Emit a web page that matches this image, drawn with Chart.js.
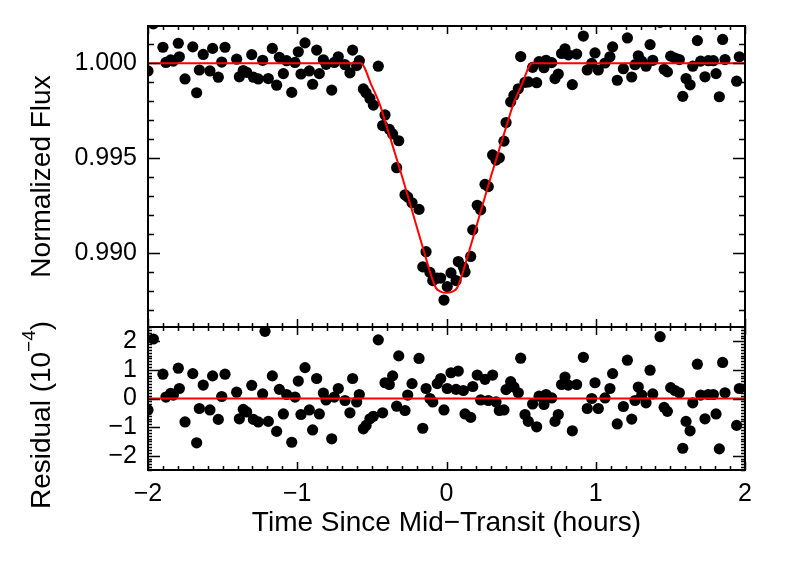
<!DOCTYPE html>
<html>
<head>
<meta charset="utf-8">
<script src="https://cdn.jsdelivr.net/npm/chart.js@4.4.1/dist/chart.umd.min.js"></script>
<style>
html, body { margin: 0; padding: 0; background: #fff; }
#wrap { position: relative; width: 789px; height: 564px; }
#wrap canvas { position: absolute; left: 0; top: 0; }
</style>
</head>
<body>
<div id="wrap">
  <canvas id="fluxChart" width="789" height="564"></canvas>
  <canvas id="residChart" width="789" height="564"></canvas>
</div>
<script>
// ---- DATA ----
const TIME = [
  -2.000, -1.964, -1.900, -1.880, -1.848, -1.830, -1.797, -1.790, -1.752, -1.700,
  -1.674, -1.656, -1.630, -1.585, -1.567, -1.529, -1.506, -1.484, -1.406, -1.388,
  -1.362, -1.339, -1.305, -1.294, -1.261, -1.232, -1.216, -1.194, -1.167, -1.138,
  -1.120, -1.093, -1.071, -1.037, -1.015, -0.993, -0.975, -0.948, -0.919, -0.897,
  -0.870, -0.852, -0.825, -0.807, -0.769, -0.752, -0.725, -0.680, -0.647, -0.629,
  -0.602, -0.584, -0.557, -0.539, -0.513, -0.490, -0.457, -0.428, -0.412, -0.383,
  -0.361, -0.334, -0.320, -0.278, -0.260, -0.231, -0.184, -0.159, -0.137, -0.111,
  -0.092, -0.062, -0.039, -0.017, 0.005, 0.030, 0.064, 0.079, 0.113, 0.124,
  0.162, 0.176, 0.206, 0.229, 0.258, 0.280, 0.309, 0.332, 0.354, 0.385,
  0.399, 0.430, 0.452, 0.481, 0.497, 0.526, 0.548, 0.577, 0.604, 0.620,
  0.653, 0.667, 0.705, 0.727, 0.749, 0.771, 0.794, 0.816, 0.843, 0.872,
  0.917, 0.943, 0.973, 0.995, 1.017, 1.062, 1.095, 1.113, 1.144, 1.185,
  1.212, 1.241, 1.263, 1.285, 1.308, 1.337, 1.364, 1.382, 1.431, 1.458,
  1.480, 1.502, 1.531, 1.560, 1.583, 1.605, 1.632, 1.650, 1.681, 1.703,
  1.732, 1.754, 1.788, 1.806, 1.828, 1.850, 1.866, 1.944, 1.962
];
const FLUX = [
  0.99960, 1.00208, 1.00085, 1.00005, 1.00018, 1.00012, 1.00106, 1.00035, 0.99918, 1.00087,
  0.99845, 0.99965, 1.00047, 0.99960, 1.00079, 0.99927, 1.00007, 1.00085, 1.00022, 0.99929,
  0.99962, 0.99953, 1.00046, 0.99927, 0.99918, 1.00016, 1.00235, 0.99920, 1.00079, 0.99885,
  1.00032, 0.99946, 1.00014, 0.99847, 1.00005, 1.00061, 0.99944, 1.00108, 0.99960, 0.99890,
  1.00070, 0.99946, 1.00019, 0.99995, 0.99859, 1.00005, 1.00035, 0.99993, 0.99950, 1.00070,
  0.99988, 1.00014, 0.99865, 0.99845, 0.99815, 0.99780, 0.99985, 0.99672, 0.99728, 0.99652,
  0.99628, 0.99450, 0.99592, 0.99307, 0.99295, 0.99265, 0.99230, 0.98927, 0.99007, 0.98898,
  0.98855, 0.98868, 0.98868, 0.98752, 0.98823, 0.98895, 0.98855, 0.98955, 0.98925, 0.98900,
  0.98982, 0.99122, 0.99252, 0.99228, 0.99362, 0.99350, 0.99517, 0.99490, 0.99502, 0.99590,
  0.99688, 0.99797, 0.99832, 0.99866, 1.00036, 0.99900, 0.99902, 0.99979, 0.99898, 1.00009,
  0.99977, 1.00016, 1.00004, 0.99920, 0.99944, 1.00052, 1.00077, 1.00045, 0.99888, 1.00049,
  1.00144, 0.99965, 1.00000, 1.00055, 0.99965, 1.00002, 1.00035, 1.00087, 0.99911, 0.99972,
  1.00134, 0.99928, 0.99993, 1.00040, 1.00012, 0.99985, 1.00099, 1.00016, 1.00216, 0.99969,
  0.99955, 1.00038, 1.00028, 1.00020, 0.99826, 0.99920, 0.99887, 0.99985, 1.00120, 1.00012,
  0.99929, 1.00014, 1.00014, 0.99946, 0.99824, 1.00126, 1.00020, 0.99906, 1.00035
];
const RESID = [
  -0.40, 2.08, 0.85, 0.05, 0.18, 0.12, 1.06, 0.35, -0.82, 0.87,
  -1.55, -0.35, 0.47, -0.40, 0.79, -0.73, 0.07, 0.85, 0.22, -0.71,
  -0.38, -0.47, 0.46, -0.73, -0.82, 0.16, 2.35, -0.80, 0.79, -1.15,
  0.32, -0.54, 0.14, -1.53, 0.05, 0.61, -0.56, 1.08, -0.40, -1.10,
  0.70, -0.54, 0.19, -0.05, -1.41, 0.05, 0.35, -0.07, -0.50, 0.70,
  -0.12, 0.14, -1.06, -0.94, -0.71, -0.62, 2.05, -0.50, 0.55, 0.49,
  0.79, -0.27, 1.49, -0.42, 0.12, 0.52, 1.40, -1.04, 0.35, 0.00,
  -0.12, 0.52, 0.70, -0.40, 0.35, 0.90, 0.32, 0.96, 0.28, -0.54,
  -0.66, 0.42, 0.82, -0.05, 0.67, -0.07, 0.82, -0.12, -0.42, -0.40,
  0.31, 0.59, 0.40, 0.20, 1.41, -0.56, -0.80, -0.19, -0.99, 0.08,
  -0.21, 0.14, 0.02, -0.80, -0.56, 0.49, 0.75, 0.47, -1.13, 0.49,
  1.44, -0.35, 0.00, 0.55, -0.35, 0.02, 0.35, 0.87, -0.89, -0.28,
  1.34, -0.72, -0.07, 0.40, 0.12, -0.15, 0.99, 0.16, 2.16, -0.31,
  -0.45, 0.38, 0.28, 0.20, -1.74, -0.80, -1.13, -0.15, 1.20, 0.12,
  -0.71, 0.14, 0.14, -0.54, -1.76, 1.26, 0.20, -0.94, 0.35
];
// transit model curve
const MODEL_TIME = [-2, -0.575, -0.5, -0.45, -0.4, -0.3, -0.2, -0.15, -0.1, -0.07, -0.04, 0,
                    0.04, 0.07, 0.1, 0.15, 0.2, 0.3, 0.4, 0.45, 0.5, 0.575, 2];
const MODEL_FLUX = [1, 1, 0.9988, 0.9979, 0.99665, 0.9941, 0.9914, 0.99005, 0.98875, 0.98815, 0.98797, 0.9879,
                    0.98797, 0.98815, 0.98875, 0.99005, 0.9914, 0.9941, 0.99665, 0.9979, 0.9988, 1, 1];
const ZERO_TIME = [-2, 2];
const ZERO_RESID = [0, 0];

const X_TICKS = [-2, -1, 0, 1, 2];
const FLUX_TICKS = [0.990, 0.995, 1.000];
const RESID_TICKS = [-2, -1, 0, 1, 2];

// ---- STYLE ----
const FONT = "'Liberation Sans', Arial, sans-serif";
const TICK_FONT = { family: FONT, size: 25 };
const TITLE_FONT = { family: FONT, size: 28 };
const RED = '#ff0000';

const pts = (xs, ys) => xs.map((x, i) => ({ x, y: ys[i] }));
const minus = v => String(v).replace('-', '\u2212');

// IDL-like frame with inward ticks on every side
function stepVals(min, max, step) {
  const out = [];
  for (let i = Math.ceil(min / step - 1e-6); i * step <= max + 1e-9; i++) out.push(i * step);
  return out;
}
const idlFrame = {
  id: 'idlFrame',
  afterDatasetsDraw(chart, args, o) {
    const { ctx, chartArea: a, scales: { x, y } } = chart;
    ctx.save();
    ctx.strokeStyle = '#000';
    ctx.lineWidth = 1.5;
    ctx.beginPath();
    stepVals(x.min, x.max, o.xMinor).forEach(v => {
      const major = X_TICKS.some(t => Math.abs(t - v) < 1e-6);
      const px = Math.round(x.getPixelForValue(v)) + 0.5;
      const len = major ? o.xMajorLen : o.xMinorLen;
      ctx.moveTo(px, a.bottom); ctx.lineTo(px, a.bottom - len);
      ctx.moveTo(px, a.top); ctx.lineTo(px, a.top + len);
    });
    stepVals(y.min, y.max, o.yMinor).forEach(v => {
      const major = o.yMajor.some(t => Math.abs(t - v) < o.yMinor / 10);
      const py = Math.round(y.getPixelForValue(v)) + 0.5;
      const len = major ? o.yMajorLen : o.yMinorLen;
      ctx.moveTo(a.left, py); ctx.lineTo(a.left + len, py);
      ctx.moveTo(a.right, py); ctx.lineTo(a.right - len, py);
    });
    ctx.stroke();
    ctx.lineWidth = 2;
    ctx.strokeRect(a.left, a.top, a.right - a.left, a.bottom - a.top);
    ctx.restore();
  }
};

// residual axis title with a raised exponent
const residTitle = {
  id: 'residTitle',
  afterDraw(chart) {
    const { ctx } = chart;
    const small = 19;
    const parts = [
      { t: 'Residual (10', size: TITLE_FONT.size, dy: 0 },
      { t: '\u22124', size: small, dy: -12 },
      { t: ')', size: TITLE_FONT.size, dy: 0 },
    ];
    ctx.save();
    ctx.fillStyle = '#000';
    ctx.textBaseline = 'middle';
    ctx.textAlign = 'left';
    let w = 0;
    parts.forEach(p => { ctx.font = `${p.size}px ${FONT}`; p.w = ctx.measureText(p.t).width; w += p.w; });
    ctx.translate(42, 415);
    ctx.rotate(-Math.PI / 2);
    let cx = -w / 2;
    parts.forEach(p => { ctx.font = `${p.size}px ${FONT}`; ctx.fillText(p.t, cx, p.dy); cx += p.w; });
    ctx.restore();
  }
};

const noGrid = { display: false, drawTicks: false };

// ---- FLUX PANEL ----
new Chart(document.getElementById('fluxChart'), {
  type: 'scatter',
  data: {
    datasets: [
      { type: 'line', data: pts(MODEL_TIME, MODEL_FLUX), borderColor: RED, borderWidth: 2,
        pointRadius: 0, cubicInterpolationMode: 'monotone', order: 0, clip: 0 },
      { data: pts(TIME, FLUX), backgroundColor: '#000', borderWidth: 0, pointRadius: 5.6,
        order: 1, clip: 0 },
    ],
  },
  options: {
    responsive: false, animation: false, devicePixelRatio: 1,
    layout: { padding: { top: 23, right: 44, bottom: 237, left: 0 } },
    plugins: {
      legend: { display: false }, tooltip: { enabled: false },
      idlFrame: { xMinor: 0.1, xMajorLen: 8, xMinorLen: 4,
                  yMajor: FLUX_TICKS, yMinor: 0.001, yMajorLen: 12, yMinorLen: 6 },
    },
    scales: {
      x: { type: 'linear', min: -2, max: 2, display: false },
      y: {
        min: 0.9861, max: 1.00197,
        afterBuildTicks: s => { s.ticks = FLUX_TICKS.map(v => ({ value: v })); },
        afterFit: s => { s.width = 148; },
        grid: noGrid, border: { display: false },
        ticks: { padding: 11, color: '#000', font: TICK_FONT, callback: v => v.toFixed(3) },
        title: { display: true, text: 'Normalized Flux', color: '#000', font: TITLE_FONT,
                 padding: { top: 25, bottom: 0 } },
      },
    },
  },
  plugins: [idlFrame],
});

// ---- RESIDUAL PANEL ----
new Chart(document.getElementById('residChart'), {
  type: 'scatter',
  data: {
    datasets: [
      { type: 'line', data: pts(ZERO_TIME, ZERO_RESID), borderColor: RED, borderWidth: 2,
        pointRadius: 0, order: 0, clip: 0 },
      { data: pts(TIME, RESID), backgroundColor: '#000', borderWidth: 0, pointRadius: 5.6,
        order: 1, clip: 0 },
    ],
  },
  options: {
    responsive: false, animation: false, devicePixelRatio: 1,
    layout: { padding: { top: 327, right: 44, bottom: 0, left: 0 } },
    plugins: {
      legend: { display: false }, tooltip: { enabled: false },
      idlFrame: { xMinor: 0.1, xMajorLen: 8, xMinorLen: 4,
                  yMajor: RESID_TICKS, yMinor: 0.1, yMajorLen: 12, yMinorLen: 4 },
    },
    scales: {
      x: {
        type: 'linear', min: -2, max: 2,
        afterBuildTicks: s => { s.ticks = X_TICKS.map(v => ({ value: v })); },
        afterFit: s => { s.height = 94; },
        grid: noGrid, border: { display: false },
        ticks: { padding: 9, color: '#000', font: TICK_FONT, autoSkip: false, maxRotation: 0,
                 callback: v => minus(v) },
        title: { display: true, text: 'Time Since Mid\u2212Transit (hours)', color: '#000',
                 font: TITLE_FONT, padding: { top: 0, bottom: 24 } },
      },
      y: {
        min: -2.5, max: 2.5,
        afterBuildTicks: s => { s.ticks = RESID_TICKS.map(v => ({ value: v })); },
        afterFit: s => { s.width = 148; },
        grid: noGrid, border: { display: false },
        ticks: { padding: 11, color: '#000', font: TICK_FONT, callback: v => minus(v) },
      },
    },
  },
  plugins: [idlFrame, residTitle],
});
</script>
</body>
</html>
